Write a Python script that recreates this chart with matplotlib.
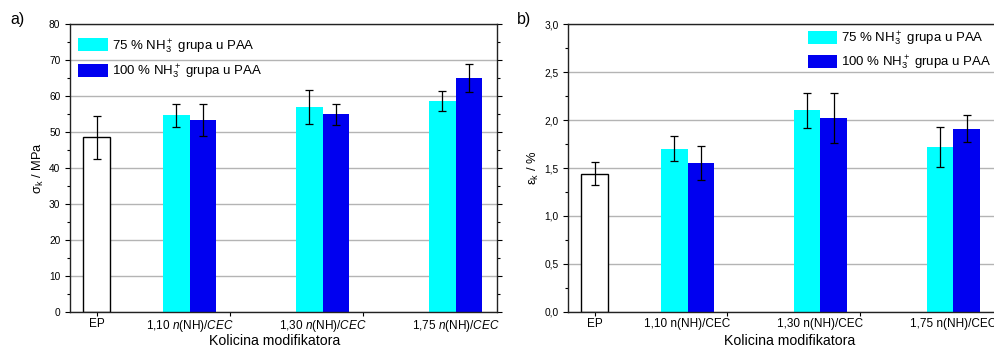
import matplotlib
matplotlib.use('Agg')
import matplotlib.pyplot as plt
from matplotlib.patches import Patch
from matplotlib.ticker import MultipleLocator, FixedLocator, FuncFormatter
import numpy as np

# ========== podaci ==========
groups = ['1,10', '1,30', '1,75']
ep_sigma, ep_sigma_err = 48.5, 6.0
sigma_75 = [54.6, 57.0, 58.6]
sigma_75_err = [3.3, 4.7, 2.7]
sigma_100 = [53.3, 54.9, 64.9]
sigma_100_err = [4.4, 3.0, 3.9]

ep_eps, ep_eps_err = 1.44, 0.12
eps_75 = [1.70, 2.10, 1.72]
eps_75_err = [0.13, 0.18, 0.21]
eps_100 = [1.55, 2.02, 1.91]
eps_100_err = [0.18, 0.26, 0.14]

labels_a = ['EP'] + [f'{g} $n$(NH)/$CEC$' for g in groups]
labels_b = ['EP'] + [f'{g} n(NH)/CEC' for g in groups]
leg_75 = '75 % NH$_3^+$ grupa u PAA'
leg_100 = '100 % NH$_3^+$ grupa u PAA'

CYAN = '#00ffff'
BLUE = '#0000f0'

plt.rcParams.update({
    'font.family': ['Liberation Sans', 'DejaVu Sans'],
    'mathtext.fontset': 'custom',
    'mathtext.rm': 'Liberation Sans',
    'mathtext.it': 'Liberation Sans:italic',
    'mathtext.bf': 'Liberation Sans:bold',
})

fig = plt.figure(figsize=(9.95, 3.46), dpi=100)
ax_a = fig.add_axes([0.0704, 0.0983, 0.4291, 0.8323])
ax_b = fig.add_axes([0.5709, 0.0983, 0.4286, 0.8323])

w = 0.2
ep_x = 0.3
gx = np.arange(1, len(groups) + 1)


def draw(ax, ep, ep_err, v75, e75, v100, e100, labels, ylim, major, minor, ylabel,
         leg_anchor, spacing, xlab_pos):
    ax.set_axisbelow(True)
    ax.grid(axis='y', color='#b4b4b4', linewidth=1.0)
    ekw = dict(ecolor='black', elinewidth=0.9, capsize=3, capthick=0.9)
    ax.bar(ep_x, ep, w, color='white', edgecolor='black', linewidth=1.0,
           yerr=ep_err, error_kw=ekw)
    ax.bar(gx - w / 2, v75, w, color=CYAN, edgecolor='none',
           yerr=e75, error_kw=ekw)
    ax.bar(gx + w / 2, v100, w, color=BLUE, edgecolor='none',
           yerr=e100, error_kw=ekw)

    ax.set_xlim(0.1, 3.31)
    ax.set_ylim(*ylim)
    ax.yaxis.set_major_locator(MultipleLocator(major))
    ax.yaxis.set_minor_locator(MultipleLocator(minor))
    ax.tick_params(axis='y', which='major', direction='out', length=3.5,
                   labelsize=7.3, right=True, width=0.8)
    ax.tick_params(axis='y', which='minor', direction='out', length=2,
                   right=True, width=0.8)

    # natpisi u sredini grupa, bez crtica
    ax.set_xticks([ep_x] + list(gx))
    ax.set_xticklabels(labels)
    ax.tick_params(axis='x', which='major', length=0, labelsize=8.5, pad=4)
    # kratke crtice na x osi (kao u Originu)
    sec = ax.secondary_xaxis('bottom')
    sec.set_xticks([ep_x, ep_x + 1, ep_x + 2])
    sec.set_xticklabels([])
    sec.tick_params(axis='x', direction='out', length=3, width=0.8)
    sec.spines['bottom'].set_visible(False)

    ax.set_xlabel('Kolicina modifikatora', fontsize=10.2, labelpad=1)
    ax.xaxis.set_label_coords(xlab_pos, -0.075)
    ax.set_ylabel(ylabel, fontsize=9.3, labelpad=2)
    for s in ax.spines.values():
        s.set_linewidth(1.0)
        s.set_color('#222222')

    handles = [Patch(facecolor=CYAN, edgecolor='none', label=leg_75),
               Patch(facecolor=BLUE, edgecolor='none', label=leg_100)]
    ax.legend(handles=handles, loc='upper left', bbox_to_anchor=leg_anchor,
              frameon=False, fontsize=9.5, borderpad=0, borderaxespad=0,
              handlelength=2.25, handleheight=1.15, handletextpad=0.3,
              labelspacing=spacing)


draw(ax_a, ep_sigma, ep_sigma_err, sigma_75, sigma_75_err, sigma_100, sigma_100_err,
     labels_a, (0, 80), 10, 5, 'σ$_\\mathrm{k}$ / MPa', (0.019, 0.955), 0.55, 0.48)
draw(ax_b, ep_eps, ep_eps_err, eps_75, eps_75_err, eps_100, eps_100_err,
     labels_b, (0, 3.0), 0.5, 0.25, 'ε$_\\mathrm{k}$ / %', (0.562, 0.98), 0.38, 0.52)
ax_b.yaxis.set_major_formatter(FuncFormatter(lambda v, p: f'{v:.1f}'.replace('.', ',')))

fig.text(0.010, 0.93, 'a)', fontsize=11.5)
fig.text(0.520, 0.93, 'b)', fontsize=11.5)

plt.savefig('out.png', dpi=100)
plt.close()
